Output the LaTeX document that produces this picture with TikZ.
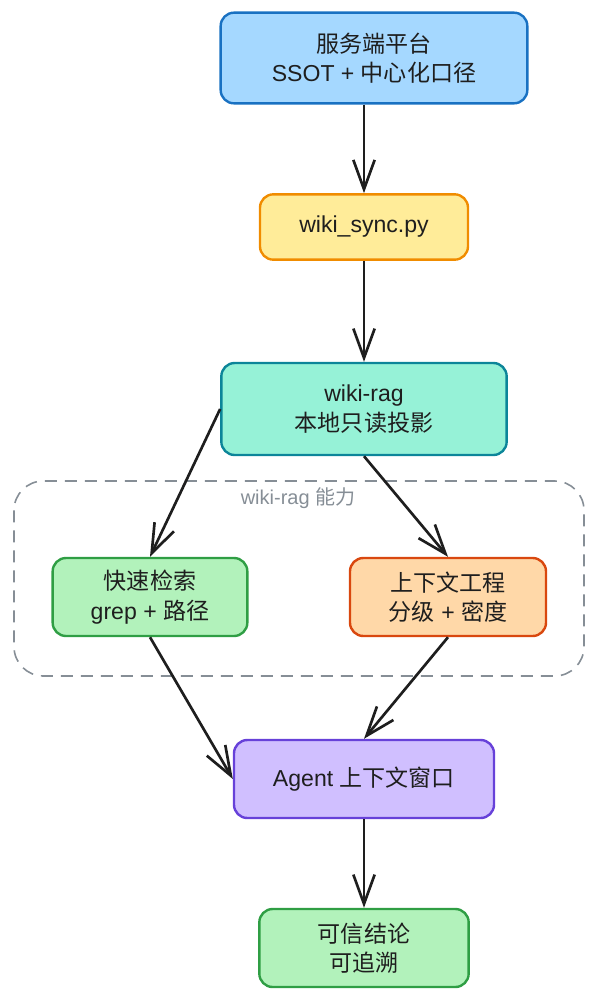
\documentclass[tikz,border=0pt]{standalone}
\usepackage{fontspec}
\setmainfont{Liberation Sans}
\newfontfamily\cjk{Noto Sans CJK SC}
\usetikzlibrary{arrows.meta}
\definecolor{bluefill}{HTML}{A5D8FF}\definecolor{bluedraw}{HTML}{1971C2}
\definecolor{yelfill}{HTML}{FFEC99}\definecolor{yeldraw}{HTML}{F08C00}
\definecolor{tealfill}{HTML}{96F2D7}\definecolor{tealdraw}{HTML}{0C8599}
\definecolor{grnfill}{HTML}{B2F2BB}\definecolor{grndraw}{HTML}{2F9E44}
\definecolor{orgfill}{HTML}{FFD8A8}\definecolor{orgdraw}{HTML}{D9480F}
\definecolor{vilfill}{HTML}{D0BFFF}\definecolor{vildraw}{HTML}{6741D9}
\definecolor{grp}{HTML}{868E96}
\definecolor{ink}{HTML}{1E1E1E}
\tikzset{
  box/.style={draw, line width=1.8pt, rounded corners=10pt, inner sep=0pt,
    align=center, text=ink, font=\fontsize{17.3}{22}\selectfont},
  conn/.style={draw=ink, line width=2pt, -{Straight Barb[length=22pt,width=16pt,line width=2pt]}},
}
\begin{document}
\begin{tikzpicture}[x=0.75pt,y=-0.75pt]
\useasboundingbox (0,0) rectangle (598,1001);
\draw[grp, line width=1.2pt, dash pattern=on 9pt off 6pt, rounded corners=22pt] (14,481) rectangle (584,676);
\node[grp, font=\fontsize{15}{18}\selectfont] (glabel) at (298,498) {wiki-rag {\cjk 能力}};
\node[box, fill=bluefill, draw=bluedraw, minimum width=230pt, minimum height=68pt] (top) at (374,58) {{\cjk 服务端平台}\\SSOT + {\cjk 中心化口径}};
\node[box, fill=yelfill, draw=yeldraw, minimum width=156pt, minimum height=49pt] (sync) at (364,227) {wiki\_sync.py};
\node[box, fill=tealfill, draw=tealdraw, minimum width=214pt, minimum height=69pt] (wr) at (364,409) {wiki-rag\\{\cjk 本地只读投影}};
\node[box, fill=grnfill, draw=grndraw, minimum width=146pt, minimum height=58.5pt] (fast) at (150,597) {{\cjk 快速检索}\\grep + {\cjk 路径}};
\node[box, fill=orgfill, draw=orgdraw, minimum width=147pt, minimum height=58.5pt] (ctx) at (448,597) {{\cjk 上下文工程}\\{\cjk 分级} + {\cjk 密度}};
\node[box, fill=vilfill, draw=vildraw, minimum width=195pt, minimum height=58.5pt] (agent) at (364,779) {Agent {\cjk 上下文窗口}};
\node[box, fill=grnfill, draw=grndraw, minimum width=157pt, minimum height=58.5pt] (res) at (364,948) {{\cjk 可信结论}\\{\cjk 可追溯}};
\draw[conn] (top.south -| sync.north) -- (sync.north);
\draw[conn] (sync.south) -- (wr.north);
\draw[conn] (wr.west) -- (fast.north);
\draw[conn] (wr.south) -- (ctx.north);
\draw[conn] (fast.south) -- (agent.west);
\draw[conn] (ctx.south) -- (agent.north);
\draw[conn] (agent.south) -- (res.north);
\end{tikzpicture}
\end{document}
